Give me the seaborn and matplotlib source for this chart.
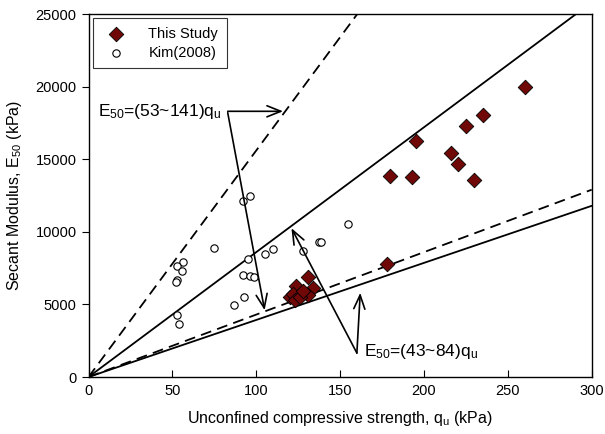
import numpy as np
import pandas as pd
import matplotlib
matplotlib.use("Agg")
import matplotlib.pyplot as plt
import seaborn as sns

# This study (diamonds)
study_qu = [235, 225, 195, 216, 220, 180, 193, 230, 178, 260,
            131, 124, 134, 120, 122, 123, 131, 126, 128]
study_e50 = [18050, 17300, 16250, 15450, 14650, 13850, 13800, 13550, 7780, 20000,
             6900, 6250, 6100, 5500, 5750, 5300, 5650, 5500, 5900]

# Kim (2008) (open circles)
kim_qu = [92, 96, 75, 56.5, 53, 56, 53, 52, 53, 54,
          95, 92, 96, 98.5, 93, 87, 105, 110, 128, 137.5, 138.5, 154.5]
kim_e50 = [12150, 12500, 8900, 7950, 7650, 7300, 6680, 6520, 4270, 3650,
           8100, 7020, 6950, 6900, 5530, 4960, 8470, 8840, 8700, 9320, 9300, 10560]

# reference lines E50 = k * qu
dashed_slopes = [156, 43]
solid_slopes = [86, 39.3]

df_study = pd.DataFrame({"qu": study_qu, "E50": study_e50})
df_kim = pd.DataFrame({"qu": kim_qu, "E50": kim_e50})

sns.set_style("ticks")
plt.rcParams["font.family"] = ["Liberation Sans", "DejaVu Sans"]
plt.rcParams["mathtext.fontset"] = "custom"
plt.rcParams["mathtext.rm"] = "Liberation Sans"
plt.rcParams["mathtext.it"] = "Liberation Sans"
plt.rcParams["mathtext.default"] = "rm"
for key in ["text.color", "axes.labelcolor", "xtick.color", "ytick.color", "axes.edgecolor"]:
    plt.rcParams[key] = "black"

fig = plt.figure(figsize=(6.05, 4.34), dpi=100)
ax = fig.add_axes([0.1463, 0.1313, 0.978 - 0.1463, 0.9677 - 0.1313])

xs = np.array([0, 300])
for k in dashed_slopes:
    ax.plot(xs, k * xs, color="black", lw=1.3, ls=(0, (6, 3.5)), zorder=1)
for k in solid_slopes:
    ax.plot(xs, k * xs, color="black", lw=1.3, ls="-", zorder=1)

sns.scatterplot(data=df_study, x="qu", y="E50", ax=ax, marker="D", s=55,
                color="#700808", edgecolor="black", linewidth=0.6,
                label="This Study", zorder=3)
sns.scatterplot(data=df_kim, x="qu", y="E50", ax=ax, marker="o", s=28,
                facecolor="white", edgecolor="black", linewidth=0.8,
                label="Kim(2008)", zorder=2)

# annotations
arrow = dict(arrowstyle="->,head_length=1.0,head_width=0.4", color="black", lw=1.2,
             shrinkA=0, shrinkB=0)
ax.text(5.5, 18300, "E$_{50}$=(53~141)q$_u$", fontsize=12.5, va="center", ha="left")
ax.annotate("", xy=(116, 18300), xytext=(83, 18300), arrowprops=arrow)
ax.annotate("", xy=(105, 4600), xytext=(83, 18200), arrowprops=arrow)

ax.text(164, 1750, "E$_{50}$=(43~84)q$_u$", fontsize=12.5, va="center", ha="left")
ax.annotate("", xy=(121, 10250), xytext=(160, 1650), arrowprops=arrow)
ax.annotate("", xy=(162, 5800), xytext=(160, 1650), arrowprops=arrow)

ax.set_xlim(0, 300)
ax.set_ylim(0, 25000)
ax.set_xticks(range(0, 301, 50))
ax.set_yticks(range(0, 25001, 5000))
ax.tick_params(axis="x", direction="in", length=5, labelsize=10.5, pad=5)
ax.tick_params(axis="y", direction="out", length=5, labelsize=10.5)
for s in ax.spines.values():
    s.set_linewidth(1.0)
    s.set_color("black")
ax.set_xlabel("Unconfined compressive strength, q$_u$ (kPa)", fontsize=11.5, labelpad=8)
ax.set_ylabel("Secant Modulus, E$_{50}$ (kPa)", fontsize=11.5, labelpad=8)

leg = ax.legend(loc="upper left", frameon=True, fancybox=False, fontsize=10.5,
                borderpad=0.6, handletextpad=1.2, labelspacing=0.3,
                borderaxespad=0.3)
leg.get_frame().set_edgecolor("black")
leg.get_frame().set_linewidth(0.8)

fig.savefig("out.png", dpi=100)
